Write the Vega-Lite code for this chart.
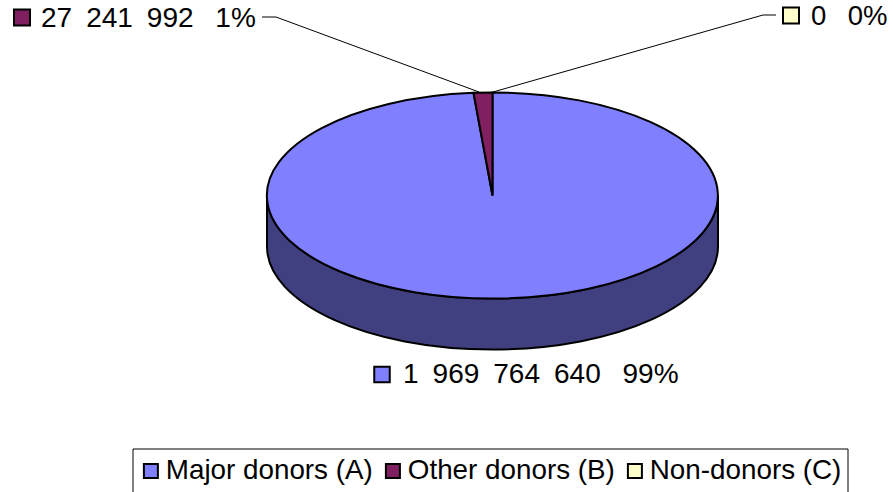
{
  "$schema": "https://vega.github.io/schema/vega-lite/v6.json",
  "width": 893,
  "height": 492,
  "padding": 0,
  "autosize": {"type": "none"},
  "background": "white",
  "view": {"stroke": null},
  "config": {"font": "Liberation Sans"},
  "datasets": {
    "donors": [
      {"donor": "Major donors (A)", "value": 1969764640, "label": "1\u2002969\u2002764\u2002640\u2002\u00a099%"},
      {"donor": "Other donors (B)", "value": 27241992, "label": "27\u2002241\u2002992\u2002\u00a01%"},
      {"donor": "Non-donors (C)", "value": 0, "label": "0\u2002\u00a00%"}
    ]
  },
  "data": {"name": "donors"},
  "layer": [
    {
      "mark": {"type": "rect", "fill": "white", "stroke": "black", "strokeWidth": 1},
      "transform": [{"filter": "datum.value === 0"}],
      "encoding": {
        "x": {"datum": 133, "type": "quantitative", "scale": {"domain": [0, 893], "range": [0, 893]}, "axis": null},
        "x2": {"datum": 848},
        "y": {"datum": 449, "type": "quantitative", "scale": {"domain": [0, 492], "range": [0, 492]}, "axis": null},
        "y2": {"datum": 500}
      }
    },
    {
      "mark": {"type": "point", "filled": true, "opacity": 1, "fill": "#404080", "stroke": "black", "strokeWidth": 2,
        "size": 203401, "shape": "M-1,0 A1,0.4568 0 0 0 1,0 L1,0.2262 A1,0.4568 0 0 1 -1,0.2262 Z"},
      "transform": [{"filter": "datum.value > 1000000000"}],
      "encoding": {
        "x": {"datum": 492.5, "type": "quantitative", "scale": {"domain": [0, 893], "range": [0, 893]}, "axis": null},
        "y": {"datum": 195.5, "type": "quantitative", "scale": {"domain": [0, 492], "range": [0, 492]}, "axis": null}
      }
    },
    {
      "mark": {"type": "point", "filled": true, "opacity": 1, "stroke": "black", "strokeWidth": 2,
        "size": 203401, "shape": "M0,0 L0,-0.4568 A1,0.4568 0 1 1 -0.0842,-0.4552 Z"},
      "transform": [{"filter": "datum.value > 1000000000"}],
      "encoding": {
        "x": {"datum": 492.5, "type": "quantitative", "scale": {"domain": [0, 893], "range": [0, 893]}, "axis": null},
        "y": {"datum": 195.5, "type": "quantitative", "scale": {"domain": [0, 492], "range": [0, 492]}, "axis": null},
        "color": {
          "field": "donor", "type": "nominal",
          "scale": {"domain": ["Major donors (A)", "Other donors (B)", "Non-donors (C)"], "range": ["#8080FF", "#802060", "#FFFFCC"]},
          "legend": {
            "title": null, "orient": "none", "legendX": 137, "legendY": 457, "direction": "horizontal", "columns": 3,
            "symbolType": "square", "symbolSize": 196, "symbolStrokeColor": "black", "symbolStrokeWidth": 2, "symbolOpacity": 1,
            "labelFont": "Liberation Sans", "labelFontSize": 27.8, "labelColor": "black", "labelLimit": 300, "columnPadding": 6, "labelOffset": 1
          }
        }
      }
    },
    {
      "mark": {"type": "point", "filled": true, "opacity": 1, "stroke": "black", "strokeWidth": 2,
        "size": 203401, "shape": "M0,0 L-0.0842,-0.4552 A1,0.4568 0 0 1 0,-0.4568 Z"},
      "transform": [{"filter": "datum.value > 1000000 && datum.value < 1000000000"}],
      "encoding": {
        "x": {"datum": 492.5, "type": "quantitative", "scale": {"domain": [0, 893], "range": [0, 893]}, "axis": null},
        "y": {"datum": 195.5, "type": "quantitative", "scale": {"domain": [0, 492], "range": [0, 492]}, "axis": null},
        "color": {"field": "donor", "type": "nominal"}
      }
    },
    {
      "mark": {"type": "rule", "color": "black", "strokeWidth": 1},
      "transform": [{"filter": "datum.value === 0"}],
      "encoding": {"x": {"datum": 776, "type": "quantitative", "scale": {"domain": [0, 893], "range": [0, 893]}, "axis": null}, "x2": {"datum": 763}, "y": {"datum": 15, "type": "quantitative", "scale": {"domain": [0, 492], "range": [0, 492]}, "axis": null}, "y2": {"datum": 15}}
    },
    {
      "mark": {"type": "rule", "color": "black", "strokeWidth": 1},
      "transform": [{"filter": "datum.value === 0"}],
      "encoding": {"x": {"datum": 763, "type": "quantitative", "scale": {"domain": [0, 893], "range": [0, 893]}, "axis": null}, "x2": {"datum": 493}, "y": {"datum": 15, "type": "quantitative", "scale": {"domain": [0, 492], "range": [0, 492]}, "axis": null}, "y2": {"datum": 92}}
    },
    {
      "mark": {"type": "rule", "color": "black", "strokeWidth": 1},
      "transform": [{"filter": "datum.value === 0"}],
      "encoding": {"x": {"datum": 262, "type": "quantitative", "scale": {"domain": [0, 893], "range": [0, 893]}, "axis": null}, "x2": {"datum": 276}, "y": {"datum": 17, "type": "quantitative", "scale": {"domain": [0, 492], "range": [0, 492]}, "axis": null}, "y2": {"datum": 17}}
    },
    {
      "mark": {"type": "rule", "color": "black", "strokeWidth": 1},
      "transform": [{"filter": "datum.value === 0"}],
      "encoding": {"x": {"datum": 276, "type": "quantitative", "scale": {"domain": [0, 893], "range": [0, 893]}, "axis": null}, "x2": {"datum": 479}, "y": {"datum": 17, "type": "quantitative", "scale": {"domain": [0, 492], "range": [0, 492]}, "axis": null}, "y2": {"datum": 92}}
    },
    {
      "transform": [{"filter": "datum.value > 1000000000"}],
      "layer": [
        {"mark": {"type": "point", "shape": "square", "filled": true, "opacity": 1, "size": 240, "fill": "#8080FF", "stroke": "black", "strokeWidth": 2},
         "encoding": {"x": {"datum": 382, "type": "quantitative", "scale": {"domain": [0, 893], "range": [0, 893]}, "axis": null}, "y": {"datum": 374.5, "type": "quantitative", "scale": {"domain": [0, 492], "range": [0, 492]}, "axis": null}}},
        {"mark": {"type": "text", "align": "left", "baseline": "alphabetic", "fontSize": 28, "font": "Liberation Sans", "color": "black"},
         "encoding": {"text": {"field": "label"}, "x": {"datum": 403, "type": "quantitative", "scale": {"domain": [0, 893], "range": [0, 893]}, "axis": null}, "y": {"datum": 383, "type": "quantitative", "scale": {"domain": [0, 492], "range": [0, 492]}, "axis": null}}}
      ]
    },
    {
      "transform": [{"filter": "datum.value > 1000000 && datum.value < 1000000000"}],
      "layer": [
        {"mark": {"type": "point", "shape": "square", "filled": true, "opacity": 1, "size": 256, "fill": "#802060", "stroke": "black", "strokeWidth": 2},
         "encoding": {"x": {"datum": 22, "type": "quantitative", "scale": {"domain": [0, 893], "range": [0, 893]}, "axis": null}, "y": {"datum": 17.5, "type": "quantitative", "scale": {"domain": [0, 492], "range": [0, 492]}, "axis": null}}},
        {"mark": {"type": "text", "align": "left", "baseline": "alphabetic", "fontSize": 28, "font": "Liberation Sans", "color": "black"},
         "encoding": {"text": {"field": "label"}, "x": {"datum": 41, "type": "quantitative", "scale": {"domain": [0, 893], "range": [0, 893]}, "axis": null}, "y": {"datum": 27, "type": "quantitative", "scale": {"domain": [0, 492], "range": [0, 492]}, "axis": null}}}
      ]
    },
    {
      "transform": [{"filter": "datum.value === 0"}],
      "layer": [
        {"mark": {"type": "point", "shape": "square", "filled": true, "opacity": 1, "size": 256, "fill": "#FFFFCC", "stroke": "black", "strokeWidth": 2},
         "encoding": {"x": {"datum": 791, "type": "quantitative", "scale": {"domain": [0, 893], "range": [0, 893]}, "axis": null}, "y": {"datum": 15.5, "type": "quantitative", "scale": {"domain": [0, 492], "range": [0, 492]}, "axis": null}}},
        {"mark": {"type": "text", "align": "left", "baseline": "alphabetic", "fontSize": 27.5, "font": "Liberation Sans", "color": "black"},
         "encoding": {"text": {"field": "label"}, "x": {"datum": 811, "type": "quantitative", "scale": {"domain": [0, 893], "range": [0, 893]}, "axis": null}, "y": {"datum": 25, "type": "quantitative", "scale": {"domain": [0, 492], "range": [0, 492]}, "axis": null}}}
      ]
    }
  ]
}
